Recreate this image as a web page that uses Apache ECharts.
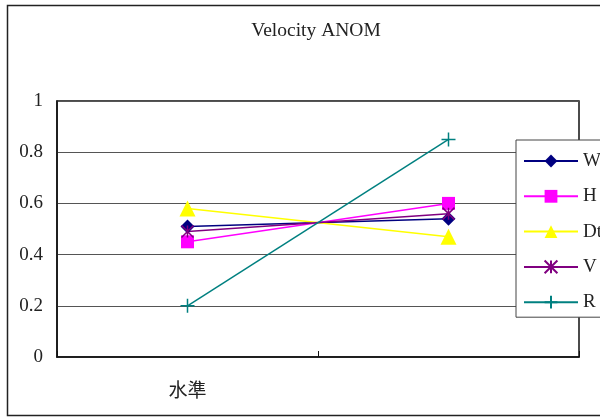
<!DOCTYPE html>
<html>
<head>
<meta charset="utf-8">
<script src="https://cdn.jsdelivr.net/npm/echarts@6/dist/echarts.min.js"></script>
<style>
  html, body { margin: 0; padding: 0; background: #fff; }
  #chart { width: 600px; height: 417px; }
</style>
</head>
<body>
<div id="chart"></div>
<script>
// Categories along the x axis (second slot is unlabeled)
const categories = ['水準', ''];

// Series values per category
const seriesW  = [0.51, 0.54];
const seriesH  = [0.45, 0.60];
const seriesDt = [0.58, 0.47];
const seriesV  = [0.49, 0.56];
const seriesR  = [0.20, 0.85];

const seriesNames = ['W', 'H', 'Dt', 'V', 'R'];

const SERIF = '"Liberation Serif", "DejaVu Serif", "Noto Sans CJK TC", serif';

const asterisk = 'path://M0,0L10,10M10,0L0,10M5,0L5,10';
const plus = 'path://M5,0L5,10M0,5L10,5';

function lineSeries(name, data, color, symbol, size, stroke) {
  return {
    name: name,
    type: 'line',
    data: data,
    symbol: symbol,
    symbolSize: size,
    showAllSymbol: true,
    lineStyle: { color: color, width: 1.5 },
    itemStyle: stroke
      ? { color: color, borderColor: color, borderWidth: 1.5 }
      : { color: color, borderWidth: 0 },
    emphasis: { disabled: true },
    animation: false
  };
}

const chart = echarts.init(document.getElementById('chart'), null, { renderer: 'canvas' });

chart.setOption({
  backgroundColor: '#fff',
  animation: false,
  title: {
    text: 'Velocity ANOM',
    left: 311,
    top: 16,
    textAlign: 'center',
    textStyle: { fontFamily: SERIF, fontSize: 19.5, fontWeight: 'normal', color: '#222' }
  },
  graphic: [{
    type: 'rect',
    shape: { x: 7.5, y: 5.5, width: 620, height: 410 },
    style: { fill: 'none', stroke: '#222', lineWidth: 1.5 },
    z: -1
  }],
  grid: {
    left: 57, top: 101, right: 21, bottom: 60,
    show: true, borderColor: '#111', borderWidth: 1.5, backgroundColor: 'transparent'
  },
  legend: {
    data: seriesNames,
    orient: 'vertical',
    left: 516,
    top: 140,
    padding: [10, 30, 4, 7],
    itemWidth: 54,
    itemHeight: 16,
    itemGap: 13.3,
    backgroundColor: '#fff',
    borderColor: '#444',
    borderWidth: 1,
    textStyle: { fontFamily: SERIF, fontSize: 19, color: '#222', lineHeight: 22, padding: [0, 0, 0, 0] },
    selectedMode: false
  },
  xAxis: {
    type: 'category',
    data: categories,
    boundaryGap: true,
    axisLine: { lineStyle: { color: '#111', width: 1.5 } },
    axisTick: { show: true, inside: true, length: 6, lineStyle: { color: '#111' } },
    axisLabel: { fontFamily: SERIF, fontSize: 19, color: '#222', margin: 26 },
    splitLine: { show: false }
  },
  yAxis: {
    type: 'value',
    min: 0,
    max: 1,
    interval: 0.2,
    axisLine: { show: true, lineStyle: { color: '#111', width: 1.5 } },
    axisTick: { show: false },
    axisLabel: { fontFamily: SERIF, fontSize: 19, color: '#222', margin: 14 },
    splitLine: { show: true, lineStyle: { color: '#555', width: 1 } }
  },
  series: [
    lineSeries('W', seriesW, '#000080', 'diamond', 14, false),
    lineSeries('H', seriesH, '#FF00FF', 'rect', 13, false),
    lineSeries('Dt', seriesDt, '#FFFF00', 'triangle', 16, false),
    lineSeries('V', seriesV, '#800080', asterisk, 12, true),
    lineSeries('R', seriesR, '#008080', plus, 14, true)
  ]
});
</script>
</body>
</html>
